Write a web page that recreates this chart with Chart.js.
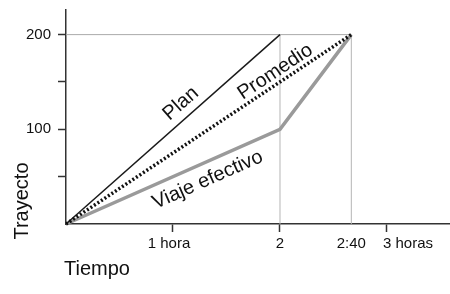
<!DOCTYPE html>
<html>
<head>
<meta charset="utf-8">
<script src="https://cdn.jsdelivr.net/npm/chart.js@4"></script>
<style>
  html, body { margin: 0; padding: 0; background: #fff; }
  #wrap { width: 450px; height: 294px; position: relative; }
</style>
</head>
<body>
<div id="wrap"><canvas id="c" width="450" height="294"></canvas></div>
<script>
// ---- data ----
const planHours = [0, 2];
const planKm = [0, 200];
const avgHours = [0, 2.6667];
const avgKm = [0, 200];
const actualHours = [0, 2, 2.6667];
const actualKm = [0, 100, 200];

const xTickValues = [1, 2, 2.6667, 3];
const xTickLabels = ['1 hora', '2', '2:40', '3 horas'];
const yTickValues = [50, 100, 150, 200];
const yTickLabels = ['', '100', '', '200'];

const seriesNames = ['Plan', 'Promedio', 'Viaje efectivo'];
const xTitle = 'Tiempo';
const yTitle = 'Trayecto';

// guide lines (reference grid) built from the same values
const guideH = { x: [0, 2.6667], y: [200, 200] };
const guideV1 = { x: [2, 2], y: [0, 200] };
const guideV2 = { x: [2.6667, 2.6667], y: [0, 200] };

const pts = (xs, ys) => xs.map((x, i) => ({ x, y: ys[i] }));

const TICK_FONT = '15px "Liberation Sans", Arial, sans-serif';
const TITLE_FONT = '20px "Liberation Sans", Arial, sans-serif';
const LABEL_FONT = '20px "Liberation Sans", Arial, sans-serif';

const textPlugin = {
  id: 'texts',
  afterDraw(chart) {
    const ctx = chart.ctx;
    const xs = chart.scales.x, ys = chart.scales.y;
    ctx.save();
    ctx.fillStyle = '#111';
    // x tick labels
    ctx.font = TICK_FONT;
    ctx.textBaseline = 'middle';
    xTickValues.forEach((v, i) => {
      const px = xs.getPixelForValue(v);
      const lab = xTickLabels[i];
      if (i === xTickValues.length - 1) {
        ctx.textAlign = 'left';
        ctx.fillText(lab, px - 4, 244);
      } else {
        ctx.textAlign = 'center';
        ctx.fillText(lab, i === 0 ? px - 4 : px, 244);
      }
    });
    // axis titles
    ctx.font = TITLE_FONT;
    ctx.textAlign = 'left';
    ctx.textBaseline = 'alphabetic';
    ctx.fillText(xTitle, 64, 275);
    ctx.save();
    ctx.translate(28, 201);
    ctx.rotate(-Math.PI / 2);
    ctx.textAlign = 'center';
    ctx.fillText(yTitle, 0, 0);
    ctx.restore();
    // series labels along their lines
    ctx.font = LABEL_FONT;
    ctx.textAlign = 'center';
    ctx.textBaseline = 'middle';
    const lineLabel = (text, xa, ya, xb, yb, t, off) => {
      const p1x = xs.getPixelForValue(xa), p1y = ys.getPixelForValue(ya);
      const p2x = xs.getPixelForValue(xb), p2y = ys.getPixelForValue(yb);
      const ang = Math.atan2(p2y - p1y, p2x - p1x);
      const cx = p1x + (p2x - p1x) * t, cy = p1y + (p2y - p1y) * t;
      const nx = Math.sin(ang), ny = -Math.cos(ang);
      ctx.save();
      ctx.translate(cx + nx * off, cy + ny * off);
      ctx.rotate(ang);
      ctx.fillText(text, 0, 0);
      ctx.restore();
    };
    lineLabel(seriesNames[0], planHours[0], planKm[0], planHours[1], planKm[1], 0.58, 14);
    lineLabel(seriesNames[1], avgHours[0], avgKm[0], avgHours[1], avgKm[1], 0.755, 11);
    lineLabel(seriesNames[2], actualHours[0], actualKm[0], actualHours[1], actualKm[1], 0.63, -17);
    ctx.restore();
  }
};

new Chart(document.getElementById('c'), {
  type: 'line',
  data: {
    datasets: [
      { data: pts(guideH.x, guideH.y), borderColor: '#aaaaaa', borderWidth: 1, pointRadius: 0, order: 10 },
      { data: pts(guideV1.x, guideV1.y), borderColor: '#b5b5b5', borderWidth: 1, pointRadius: 0, order: 10 },
      { data: pts(guideV2.x, guideV2.y), borderColor: '#b5b5b5', borderWidth: 1, pointRadius: 0, order: 10 },
      { label: seriesNames[2], data: pts(actualHours, actualKm), borderColor: '#9a9a9a', borderWidth: 3.5, pointRadius: 0, borderJoinStyle: 'miter', order: 3 },
      { label: seriesNames[0], data: pts(planHours, planKm), borderColor: '#1a1a1a', borderWidth: 1.5, pointRadius: 0, order: 2 },
      { label: seriesNames[1], data: pts(avgHours, avgKm), borderColor: '#111111', borderWidth: 3.5, borderDash: [2, 2.2], borderCapStyle: 'butt', pointRadius: 0, order: 1 }
    ]
  },
  options: {
    responsive: false,
    animation: false,
    devicePixelRatio: 1,
    layout: { padding: { top: 10, right: 0, left: 0, bottom: 0 } },
    plugins: { legend: { display: false }, tooltip: { enabled: false } },
    elements: { line: { tension: 0, fill: false } },
    datasets: { line: { clip: false } },
    scales: {
      x: {
        type: 'linear', min: 0, max: 3.589,
        afterFit(s) { s.height = 70; s.paddingLeft = 0; s.paddingRight = 0; },
        afterBuildTicks(s) { s.ticks = xTickValues.map(v => ({ value: v })); },
        border: { display: true, color: '#333', width: 1.5 },
        grid: {
          drawOnChartArea: false, drawTicks: true, tickLength: 8, tickWidth: 1.5,
          tickColor: (c) => (c.tick && Math.abs(c.tick.value - 2.6667) < 0.01) ? 'rgba(0,0,0,0)' : '#333'
        },
        ticks: { callback: () => '', font: { size: 14 } }
      },
      y: {
        type: 'linear', min: 0, max: 226,
        afterFit(s) { s.width = 66; s.paddingTop = 0; s.paddingBottom = 0; },
        afterBuildTicks(s) { s.ticks = yTickValues.map(v => ({ value: v })); },
        border: { display: true, color: '#333', width: 1.5 },
        grid: { drawOnChartArea: false, drawTicks: true, tickLength: 8, tickWidth: 1.5, tickColor: '#333' },
        ticks: {
          padding: 7, color: '#111',
          font: { family: '"Liberation Sans", Arial, sans-serif', size: 15 },
          callback: (v) => { const i = yTickValues.indexOf(v); return i >= 0 ? yTickLabels[i] : ''; }
        }
      }
    }
  },
  plugins: [textPlugin]
});
</script>
</body>
</html>
